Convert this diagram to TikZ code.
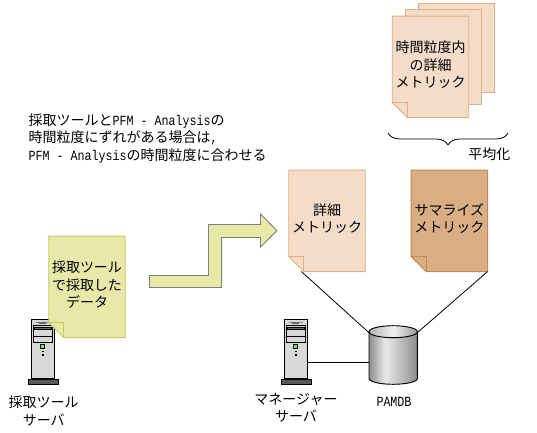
\documentclass[tikz,border=0pt]{standalone}
\usepackage{fontspec}
\setmainfont{Noto Sans CJK JP}
\newfontfamily\latfont[FakeStretch=0.833]{Liberation Mono}
\usetikzlibrary{positioning}
\usetikzlibrary{decorations.pathreplacing}
\definecolor{yelfill}{HTML}{E8E8A8}
\definecolor{yelline}{HTML}{C8C860}
\definecolor{peachfill}{HTML}{F5DCC8}
\definecolor{peachline}{HTML}{DFB080}
\definecolor{brownfill}{HTML}{D9AE85}
\definecolor{brownline}{HTML}{C08A55}
\definecolor{srvgray}{HTML}{D8D8D8}
\definecolor{srvbase}{HTML}{595959}
\pgfdeclarehorizontalshading{dbside}{100bp}{color(0bp)=(black!45);color(25bp)=(black!45);color(42bp)=(black!8);color(75bp)=(black!45);color(100bp)=(black!45)}
\pgfdeclarehorizontalshading{dbtop}{100bp}{color(0bp)=(black!30);color(25bp)=(black!30);color(50bp)=(black!5);color(75bp)=(black!40);color(100bp)=(black!40)}
\tikzset{
	txt/.style={font=\fontsize{10.5}{13}\selectfont, align=center, inner sep=0pt},
	lefttxt/.style={font=\fontsize{10.5}{13.1}\selectfont, align=left, inner sep=0pt, anchor=west},
	sheetbox/.style={minimum width=57pt, minimum height=75.75pt, inner sep=0pt},
	yelsheet/.style={draw=yelline, fill=yelfill, line width=0.7pt},
	peachsheet/.style={draw=peachline, fill=peachfill, line width=0.7pt},
	brownsheet/.style={draw=brownline, fill=brownfill, line width=0.7pt},
	srvbody/.style={draw=black, fill=srvgray, line width=0.7pt, minimum width=17.5pt, minimum height=44.25pt, inner sep=0pt},
	srvfoot/.style={draw=black, fill=srvbase, line width=0.7pt, minimum width=22.5pt, minimum height=3.75pt, inner sep=0pt},
	conn/.style={draw=black, line width=0.6pt},
}
% sheet with folded corner: style, name, centre, text
\newcommand{\docsheet}[4]{
	\node[sheetbox] (#2) at (#3) {};
	\draw[#1] (#2.north west) -- (#2.north east) -- (#2.south east) -- ([xshift=11.25pt]#2.south west) -- ([yshift=11.25pt]#2.south west) -- cycle;
	\draw[#1, fill=none] ([yshift=11.25pt]#2.south west) -- ([xshift=11.25pt,yshift=11.25pt]#2.south west) -- ([xshift=11.25pt]#2.south west);
	\node[txt] (#2txt) at ([yshift=1.5pt]#2.center) {#4};
}
% server: name, x of centre
\newcommand{\serverbox}[2]{
	\node[srvbody] (#1) at (#2,348.8) {};
	\node[srvfoot, below=0pt of #1] (#1foot) {};
	\begin{scope}[shift={(#1.north west)}]
		\draw[gray, line width=0.6pt] (4.7,4) -- (19,4);
		\fill[black!60] (8,2.7) rectangle (15,5);
		\draw[black, fill=srvgray, line width=0.7pt] (3,6.7) rectangle (21.4,23.4);
		\draw[black, fill=black!60, line width=0.6pt] (4,8.5) rectangle (20.4,11);
		\draw[black, line width=0.6pt] (3,17.5) -- (21.4,17.5);
		\draw[black, fill=green!70, line width=0.6pt] (10,26) rectangle (13.4,29.4);
		\fill[black] (10.7,31.7) rectangle (13.4,33.4);
		\fill[black] (10.7,35) rectangle (13.4,37);
	\end{scope}
}
\begin{document}
\begin{tikzpicture}[x=0.75pt, y=-0.75pt]
	\useasboundingbox (0,0) rectangle (537,433);
	% servers
	\serverbox{toolsrv}{43}
	\serverbox{mgrsrv}{296}
	\node[txt] (toolsrvtxt) at (43.7,410.8) {採取ツール\\サーバ};
	\node[txt] (mgrsrvtxt) at (296,407.8) {マネージャー\\サーバ};
	% database
	\node[minimum width=36pt, minimum height=44pt, inner sep=0pt] (pamdb) at (393,355) {};
	\coordinate (dbleft) at (369,332.7);
	\coordinate (dbright) at (417.3,332.7);
	\coordinate (dbin) at (369,362);
	\draw[conn] (dbin -| mgrsrv.east) -- (dbin);
	\path[shading=dbside, draw=black, line width=0.7pt] (369,332) -- (369,378.5) arc (180:0:24.2 and 5.8) -- (417.4,332) -- cycle;
	\path[shading=dbtop, draw=black, line width=0.7pt] (393.2,331.7) ellipse (24.2 and 6);
	\node[txt] (pamdbtxt) at (394,401.7) {\latfont PAMDB};
	% sheets
	\docsheet{yelsheet}{tooldata}{87,286.8}{採取ツール\\で採取した\\データ}
	\docsheet{peachsheet}{detail}{327,220.8}{詳細\\メトリック}
	\docsheet{brownsheet}{summary}{449.3,220.8}{サマライズ\\メトリック}
	\draw[conn] ([xshift=9.5pt]detail.south west) -- (dbleft);
	\draw[conn] (summary.south east) -- (dbright);
	% stack of sheets
	\node[sheetbox, peachsheet, minimum height=66.5pt] (backc) at (456.3,48) {};
	\node[sheetbox, peachsheet, minimum height=71.8pt] (backb) at (443.3,57) {};
	\docsheet{peachsheet}{backa}{430.5,66.8}{時間粒度内\\の詳細\\メトリック}
	% brace
	\coordinate (bracel) at (388,133);
	\coordinate (bracer) at (508,133);
	\draw[conn, decorate, decoration={brace, mirror, amplitude=9pt}] (bracel) -- (bracer);
	\node[txt] (avgtxt) at (489.3,154.3) {平均化};
	% arrow
	\draw[draw=gray, fill=yelfill, line width=0.7pt] (149.5,275.5) -- (208.5,275.5) -- (208.5,224.5) -- (260.5,224.5) -- (260.5,214) -- (277,230.7) -- (260.5,247) -- (260.5,237.5) -- (221.7,237.5) -- (221.7,287.5) -- (149.5,287.5) -- cycle;
	% note
	\node[lefttxt] (notetxt) at (28.3,138.5) {採取ツールと{\latfont PFM - Analysis}の\\時間粒度にずれがある場合は{\latfont ,}\\{\latfont PFM - Analysis}の時間粒度に合わせる};
\end{tikzpicture}
\end{document}
